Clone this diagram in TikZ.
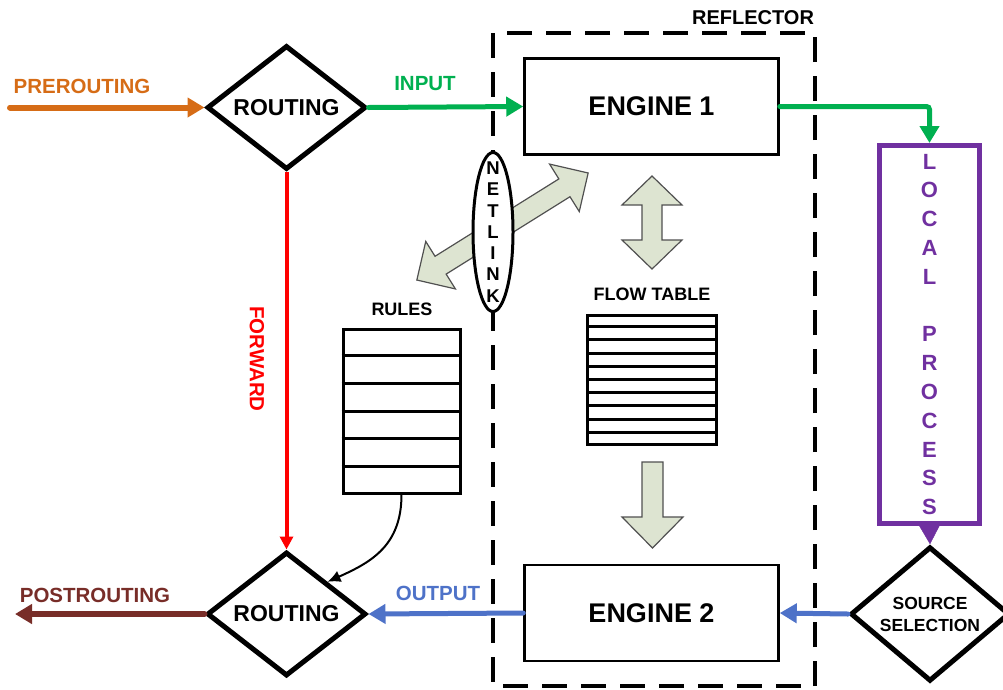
\documentclass[tikz,border=0pt]{standalone}
\usepackage{fontspec}
\setmainfont{Liberation Sans}
\usetikzlibrary{shapes.geometric,arrows.meta,calc}

\definecolor{cOrange}{RGB}{214,108,22}
\definecolor{cGreen}{RGB}{0,176,80}
\definecolor{cRed}{RGB}{255,0,0}
\definecolor{cBlue}{RGB}{78,114,200}
\definecolor{cBrown}{RGB}{120,45,40}
\definecolor{cPurple}{RGB}{112,48,160}
\definecolor{cBlock}{RGB}{221,228,209}
\definecolor{cBlockLine}{RGB}{80,80,80}

% bold sans text of a given size (in pt)
\newcommand{\bfsz}[2]{\fontsize{#1}{#2}\selectfont\bfseries}

% two-headed block arrow: centre, angle, length, shaft half width, head half width, head length
\newcommand{\twowayarrow}[6]{%
  \begin{scope}[shift={#1},rotate=#2]
    \pgfmathsetmacro{\ha}{#3/2}\pgfmathsetmacro{\hb}{#3/2-#6}
    \draw[blockarrow] (-\ha,0) -- (-\hb,#5) -- (-\hb,#4) -- (\hb,#4) -- (\hb,#5)
      -- (\ha,0) -- (\hb,-#5) -- (\hb,-#4) -- (-\hb,-#4) -- (-\hb,-#5) -- cycle;
  \end{scope}}

\begin{document}
\begin{tikzpicture}[x=1pt,y=-1pt,
  decision/.style={shape=diamond, draw, line width=5pt, fill=white,
    minimum width=159pt, minimum height=124pt, inner sep=0pt, align=center},
  engine/.style={draw, line width=2.5pt, fill=white, minimum width=254pt,
    minimum height=96pt, font=\bfsz{27}{30}},
  flowlabel/.style={font=\bfsz{20.5}{24}},
  caption/.style={font=\bfsz{18}{22}},
  tablebox/.style={draw, line width=3pt, inner sep=0pt},
  blockarrow/.style={fill=cBlock, draw=cBlockLine, line width=1.2pt, line join=miter},
  thickflow/.style={line width=#1, line cap=round},
  bigtip/.style={-{Triangle[length=17pt,width=19pt]}},
]
\useasboundingbox (0,0) rectangle (1003,689);
\clip (0,0) rectangle (1003,689);

% ---------- main nodes ----------
\node[decision, font=\bfsz{23}{26}] (toproute) at (286.5,107.5) {ROUTING};
\node[decision, font=\bfsz{23}{26}] (botroute) at (286.5,614) {ROUTING};
\node[decision, font=\bfsz{17.5}{22}] (source) at (930,614) {SOURCE\\SELECTION};

\node[engine] (engine1) at (651.5,106.5) {ENGINE 1};
\node[engine] (engine2) at (651.5,613) {ENGINE 2};

\node[draw=cPurple, line width=5pt, minimum width=100pt, minimum height=378pt,
  align=center, text=cPurple, font=\bfsz{22}{28.8}] (local) at (929.5,334.5)
  {L\\O\\C\\A\\L\\[28.8pt]P\\R\\O\\C\\E\\S\\S};

% ---------- tables ----------
\node[caption] (rulestitle) at (402,309) {RULES};
\node[tablebox, minimum width=117pt, minimum height=164pt] (rules) at (401.5,411) {};
\foreach \i in {1,...,5}
  \draw[line width=3pt] ($(rules.north west)!\i/6!(rules.south west)$) -- ($(rules.north east)!\i/6!(rules.south east)$);

\node[caption] (flowtitle) at (652,294) {FLOW TABLE};
\node[tablebox, minimum width=129pt, minimum height=129pt] (flow) at (652,379.5) {};
\foreach \i in {1,...,9}
  \draw[line width=3pt] ($(flow.north west)!\i/10!(flow.south west)$) -- ($(flow.north east)!\i/10!(flow.south east)$);

% ---------- block arrows ----------
\twowayarrow{(502.5,226.5)}{32}{202}{10.5}{28}{28}
\twowayarrow{(652,222.5)}{90}{93}{10}{30}{29}
\begin{scope}[shift={(652.5,505)}]
  \draw[blockarrow] (-10.5,-43) -- (10.5,-43) -- (10.5,12) -- (30.5,12) -- (0,43)
    -- (-30.5,12) -- (-10.5,12) -- cycle;
\end{scope}

% ---------- flows ----------
\coordinate (prestart) at (10,107.5);
\coordinate (postend) at (15,614);
\draw[thickflow=6pt, cOrange, bigtip] (prestart) -- (toproute.west);
\draw[thickflow=5pt, cGreen, bigtip] (toproute.east) -- (engine1.west);
\draw[thickflow=5pt, cGreen, bigtip, rounded corners=3pt] (engine1.east) -| (local.north);
\draw[cPurple, -{Triangle[length=20pt,width=22pt]}] (local.south) -- (source.north);
\draw[thickflow=5pt, cBlue, bigtip] (source.west) -- (engine2.east);
\draw[thickflow=5pt, cBlue, bigtip] (engine2.west) -- (botroute.east);
\draw[thickflow=6pt, cBrown, bigtip] (botroute.west) -- (postend);
\draw[line width=4pt, cRed, -{Triangle[length=13pt,width=13pt]}] (toproute.south) -- (botroute.north);
\draw[line width=2pt, -{Latex[length=13pt,width=12pt]}] (rules.south)
  .. controls (401.5,545) and (372,562) .. (botroute.north east);

% ---------- flow labels ----------
\node[flowlabel, text=cOrange] (prelabel) at (82,86) {PREROUTING};
\node[flowlabel, text=cGreen] (inlabel) at (425,84) {INPUT};
\node[flowlabel, text=cBlue] (outlabel) at (438,593) {OUTPUT};
\node[flowlabel, text=cBrown] (postlabel) at (95,595) {POSTROUTING};
\node[flowlabel, text=cRed, rotate=-90] (fwdlabel) at (257,359) {FORWARD};

% ---------- reflector boundary ----------
\draw[line width=3.5pt, dash pattern=on 25pt off 14pt] (493,33) rectangle (815,686);
\node[font=\bfsz{20}{22}] (reflabel) at (753,18) {REFLECTOR};

% ---------- netlink ----------
\node[draw, shape=ellipse, line width=3pt, fill=white, minimum width=40pt,
  minimum height=159pt, inner sep=0pt] (netlink) at (493,232) {};
\node[align=center, inner sep=0pt, font=\bfsz{18.5}{21.3}] (netlinktext)
  at (netlink.center) {N\\E\\T\\L\\I\\N\\K};
\end{tikzpicture}
\end{document}
